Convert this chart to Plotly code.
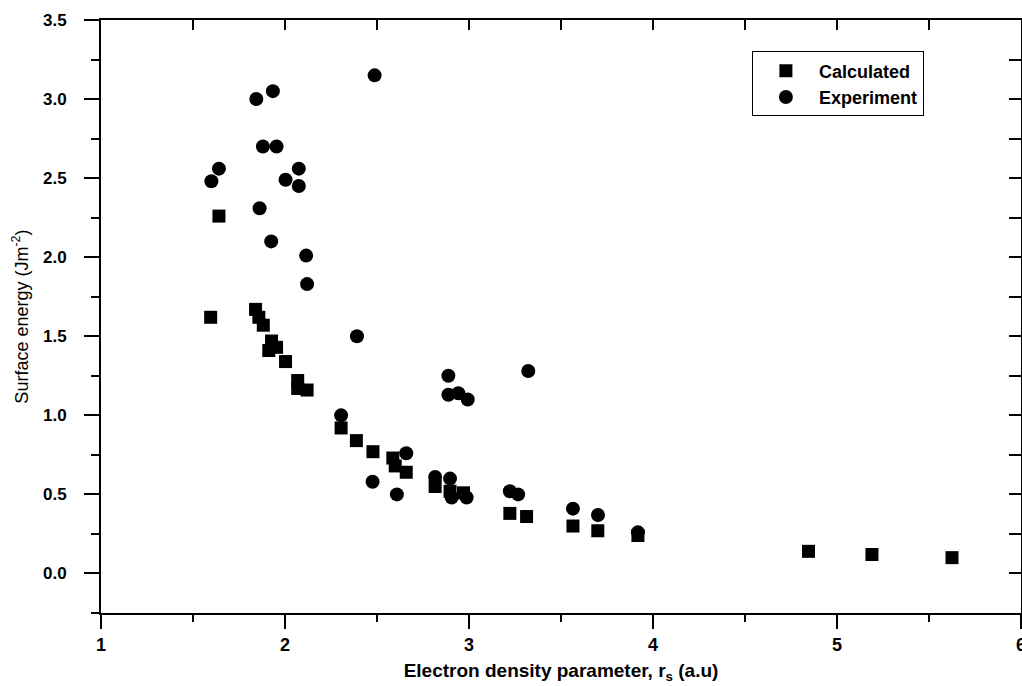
import plotly.graph_objects as go

calc_x = [1.596, 1.641, 1.840, 1.858, 1.882, 1.912, 1.927, 1.954, 2.003, 2.069, 2.069, 2.120,
          2.305, 2.388, 2.478, 2.586, 2.599, 2.659, 2.816, 2.897, 2.970, 3.222, 3.313,
          3.565, 3.700, 3.918, 4.845, 5.190, 5.625]
calc_y = [1.62, 2.26, 1.67, 1.62, 1.57, 1.41, 1.47, 1.43, 1.34, 1.22, 1.17, 1.16,
          0.92, 0.84, 0.77, 0.73, 0.68, 0.64, 0.55, 0.52, 0.51, 0.38, 0.36,
          0.30, 0.27, 0.24, 0.14, 0.12, 0.10]

exp_x = [1.600, 1.641, 1.844, 1.862, 1.880, 1.925, 1.934, 1.954, 2.003, 2.075, 2.075, 2.115,
         2.120, 2.305, 2.391, 2.476, 2.487, 2.608, 2.659, 2.816, 2.888, 2.888, 2.897, 2.906,
         2.942, 2.987, 2.993, 3.222, 3.267, 3.322, 3.565, 3.701, 3.918]
exp_y = [2.48, 2.56, 3.00, 2.31, 2.70, 2.10, 3.05, 2.70, 2.49, 2.56, 2.45, 2.01,
         1.83, 1.00, 1.50, 0.58, 3.15, 0.50, 0.76, 0.61, 1.25, 1.13, 0.60, 0.48,
         1.14, 0.48, 1.10, 0.52, 0.50, 1.28, 0.41, 0.37, 0.26]

x_range = [1, 6]
y_range = [-0.25, 3.5]
x_ticks = [1, 2, 3, 4, 5, 6]
y_ticks = [0.0, 0.5, 1.0, 1.5, 2.0, 2.5, 3.0, 3.5]

FONT = "Liberation Sans, Arial, sans-serif"

fig = go.Figure()
fig.add_trace(go.Scatter(
    x=calc_x, y=calc_y, mode="markers", name="Calculated",
    marker=dict(symbol="square", size=13, color="black"),
))
fig.add_trace(go.Scatter(
    x=exp_x, y=exp_y, mode="markers", name="Experiment",
    marker=dict(symbol="circle", size=14, color="black"),
))
# carrier for the mirrored (top/right) axes with inward ticks
fig.add_trace(go.Scatter(x=[], y=[], xaxis="x2", yaxis="y2", showlegend=False,
                         hoverinfo="skip"))

fig.update_layout(
    width=1022, height=686,
    margin=dict(l=101, r=1, t=20, b=73, autoexpand=False),
    paper_bgcolor="white", plot_bgcolor="white",
    font=dict(family=FONT, color="black"),
    showlegend=True,
    legend=dict(
        x=0.7075, y=0.947, xanchor="left", yanchor="top",
        bordercolor="black", borderwidth=1, bgcolor="white",
        font=dict(size=18, weight="bold", family=FONT),
        itemwidth=56,
    ),
    xaxis=dict(
        range=x_range, tickvals=x_ticks, ticktext=[str(v) for v in x_ticks],
        showgrid=False, zeroline=False, automargin=False,
        ticklabeloverflow="allow",
        showline=True, linewidth=2, linecolor="black",
        ticks="outside", ticklen=14, tickwidth=2, tickcolor="black",
        minor=dict(dtick=0.5, ticks="outside", ticklen=7, tickwidth=2, tickcolor="black"),
        tickfont=dict(size=18, weight="bold", family=FONT),
        title=dict(text="Electron density parameter, r<sub>s</sub> (a.u)",
                   font=dict(size=19, weight="bold", family=FONT), standoff=10),
    ),
    yaxis=dict(
        range=y_range, tickvals=y_ticks, ticktext=[f"{v:.1f}" for v in y_ticks],
        showgrid=False, zeroline=False, automargin=False,
        showline=True, linewidth=2, linecolor="black",
        ticks="outside", ticklen=15, tickwidth=2, tickcolor="black",
        minor=dict(dtick=0.25, ticks="outside", ticklen=8, tickwidth=2, tickcolor="black"),
        tickfont=dict(size=17, weight="bold", family=FONT),
        ticklabelstandoff=14,
        title=dict(text="Surface energy (Jm<sup>-2</sup>)",
                   font=dict(size=18, family=FONT), standoff=10),
    ),
    xaxis2=dict(
        overlaying="x", side="top", range=x_range, dtick=0.5, tick0=1,
        showgrid=False, zeroline=False, showticklabels=False, automargin=False,
        showline=True, linewidth=2, linecolor="black",
        ticks="inside", ticklen=10, tickwidth=2, tickcolor="black",
    ),
    yaxis2=dict(
        overlaying="y", side="right", range=y_range, dtick=0.25, tick0=0,
        showgrid=False, zeroline=False, showticklabels=False, automargin=False,
        showline=True, linewidth=2, linecolor="black",
        ticks="inside", ticklen=12, tickwidth=2, tickcolor="black",
    ),
)

# remove the default 8px page margin so the figure fills the window exactly
fig.write_html(
    "out.html",
    config={"displayModeBar": False},
    post_script="document.body.style.margin='0';document.body.style.overflow='hidden';",
)
